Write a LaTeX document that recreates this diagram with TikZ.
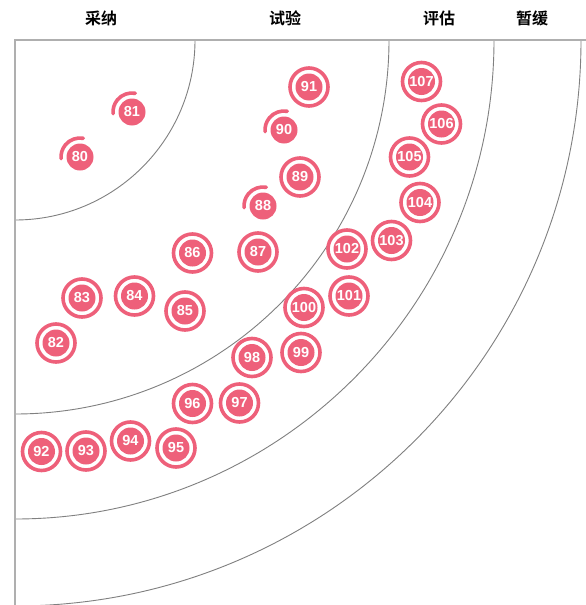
\documentclass[tikz,border=0pt]{standalone}
\usepackage{fontspec}
\setmainfont{Liberation Sans}
\newfontfamily\cjkfont{Noto Sans CJK SC}[BoldFont={* Bold}]
\definecolor{blipc}{RGB}{238,96,122}
\definecolor{arcc}{RGB}{128,128,128}
\definecolor{borderc}{RGB}{175,175,175}
\begin{document}
\begin{tikzpicture}[x=1pt,y=1pt,
  blip/.style={circle, fill=blipc, text=white, font=\fontsize{14.5}{15}\selectfont\bfseries, inner sep=0pt, minimum size=27pt},
  ringst/.style={draw=blipc, line width=3.6pt},
  partst/.style={draw=blipc, line width=3.6pt, line cap=round},
  ringline/.style={draw=arcc, line width=0.9pt},
  border/.style={draw=borderc, line width=1.4pt},
  head/.style={font=\cjkfont\bfseries\fontsize{16}{16}\selectfont, text=black, inner sep=0pt}
]
\useasboundingbox (0,0) rectangle (586,-605);
\fill[white] (0,0) rectangle (586,-605);

% headers
\node[head] (h1) at (101,-18) {采纳};
\node[head] (h2) at (285,-18) {试验};
\node[head] (h3) at (439,-18) {评估};
\node[head] (h4) at (532,-18) {暂缓};

% border and rings
\coordinate (o) at (15,-40);
\coordinate (tr) at (586,-40);
\coordinate (bl) at (15,-605);
\draw[ringline] (195,-40) arc[start angle=0, end angle=-90, radius=180];
\draw[ringline] (389,-40) arc[start angle=0, end angle=-90, radius=374];
\draw[ringline] (494,-40) arc[start angle=0, end angle=-90, radius=479];
\draw[ringline] (581,-40) arc[start angle=0, end angle=-90, radius=566];
\draw[border] (tr) -- (o) -- (bl);

% blips
\node[blip] (b80) at (80,-157) {80};
\node[blip] (b81) at (132,-112) {81};
\node[blip] (b82) at (56,-343) {82};
\node[blip] (b83) at (82,-298) {83};
\node[blip] (b84) at (134.5,-296) {84};
\node[blip] (b85) at (185,-311) {85};
\node[blip] (b86) at (192.5,-253) {86};
\node[blip] (b87) at (258,-252) {87};
\node[blip] (b88) at (263,-206) {88};
\node[blip] (b89) at (300,-177) {89};
\node[blip] (b90) at (284,-130) {90};
\node[blip] (b91) at (309,-87) {91};
\node[blip] (b92) at (41.5,-451.5) {92};
\node[blip] (b93) at (86,-451) {93};
\node[blip] (b94) at (130.5,-441) {94};
\node[blip] (b95) at (176,-448) {95};
\node[blip] (b96) at (192.5,-403.5) {96};
\node[blip] (b97) at (239.5,-403) {97};
\node[blip] (b98) at (252,-357.5) {98};
\node[blip] (b99) at (301,-352.5) {99};
\node[blip] (b100) at (304,-307.5) {100};
\node[blip] (b101) at (349,-296) {101};
\node[blip] (b102) at (347,-249) {102};
\node[blip] (b103) at (391.5,-240.5) {103};
\node[blip] (b104) at (420,-202.5) {104};
\node[blip] (b105) at (409.5,-157) {105};
\node[blip] (b106) at (441.5,-124) {106};
\node[blip] (b107) at (421.5,-81.5) {107};

% full rings
\foreach \n in {82,83,84,85,86,87,89,91,92,93,94,95,96,97,98,99,100,101,102,103,104,105,106,107}
  \draw[ringst] (b\n.center) circle[radius=19];

% partial rings (new)
\foreach \n in {80,81,88,90}
  \draw[partst] ([shift={(80:19)}]b\n.center) arc[start angle=80, end angle=185, radius=19];
\end{tikzpicture}
\end{document}
